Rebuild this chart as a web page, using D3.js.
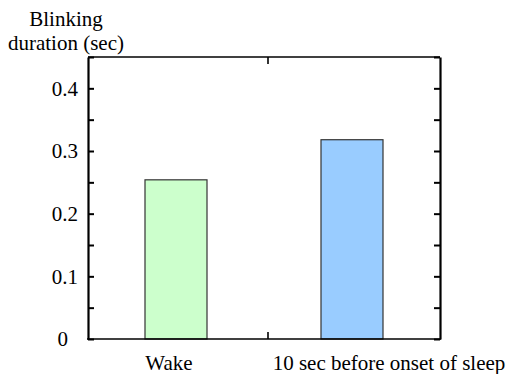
<!DOCTYPE html>
<html>
<head>
<meta charset="utf-8">
<script src="https://cdn.jsdelivr.net/npm/d3@7"></script>
<style>
  body { margin: 0; background: #fff; }
</style>
</head>
<body>
<div id="chart"></div>
<script>
// chart data
var categories = ["Wake", "10 sec before onset of sleep"];
var durations = [0.254, 0.318];
var barColors = ["#ccffcc", "#99ccff"];
var yTickValues = [0, 0.05, 0.1, 0.15, 0.2, 0.25, 0.3, 0.35, 0.4, 0.45];
var yLabelValues = [0, 0.1, 0.2, 0.3, 0.4];
var yTitle = ["Blinking", "duration (sec)"];

var width = 507, height = 374;
var plotLeft = 88, plotRight = 440, plotTop = 57, plotBottom = 339;
var serif = "'Liberation Serif', 'Times New Roman', 'DejaVu Serif', serif";

var svg = d3.select("#chart").append("svg")
    .attr("width", width)
    .attr("height", height);

var x = d3.scalePoint()
    .domain(categories)
    .range([plotLeft, plotRight])
    .padding(0.5);

var y = d3.scaleLinear()
    .domain([0, 0.45])
    .range([plotBottom, plotTop]);

var barWidth = 62;

// bars
svg.selectAll("rect.bar")
    .data(categories)
    .enter().append("rect")
    .attr("class", "bar")
    .attr("x", function(d) { return x(d) - barWidth / 2; })
    .attr("y", function(d, i) { return y(durations[i]); })
    .attr("width", barWidth)
    .attr("height", function(d, i) { return y(0) - y(durations[i]); })
    .attr("fill", function(d, i) { return barColors[i]; })
    .attr("stroke", "#333")
    .attr("stroke-width", 1.2);

function fmt(d) {
  if (yLabelValues.indexOf(d) < 0) return "";
  return d === 0 ? "0" : d3.format(".1f")(d);
}

// left axis, ticks pointing inward
var yAxisL = d3.axisLeft(y)
    .tickValues(yTickValues)
    .tickFormat(fmt)
    .tickSizeInner(-6)
    .tickSizeOuter(0)
    .tickPadding(10);

var gl = svg.append("g")
    .attr("transform", "translate(" + plotLeft + ",0)")
    .call(yAxisL)
    .attr("font-family", serif)
    .attr("font-size", 21);
gl.select(".domain").attr("stroke-width", 2.2);
gl.selectAll(".tick line").attr("stroke-width", 2);
gl.selectAll(".tick text")
    .attr("fill", "#000")
    .attr("dx", function(d) { return d === 0 ? -10 : 0; });

// right axis, ticks pointing inward
var yAxisR = d3.axisRight(y)
    .tickValues(yTickValues)
    .tickFormat("")
    .tickSizeInner(-6)
    .tickSizeOuter(0);

var gr = svg.append("g")
    .attr("transform", "translate(" + plotRight + ",0)")
    .call(yAxisR);
gr.select(".domain").attr("stroke-width", 2.2);
gr.selectAll(".tick line").attr("stroke-width", 2);

// top and bottom frame with a tick between the two groups
var mid = (x(categories[0]) + x(categories[1])) / 2 + 4;

svg.append("line")
    .attr("x1", plotLeft).attr("x2", plotRight)
    .attr("y1", y(0.45)).attr("y2", y(0.45))
    .attr("stroke", "#000").attr("stroke-width", 1.6);
svg.append("line")
    .attr("x1", plotLeft - 1).attr("x2", plotRight + 1)
    .attr("y1", y(0)).attr("y2", y(0))
    .attr("stroke", "#000").attr("stroke-width", 1.6);
svg.append("line")
    .attr("x1", mid).attr("x2", mid)
    .attr("y1", y(0.45)).attr("y2", y(0.45) + 7)
    .attr("stroke", "#000").attr("stroke-width", 1.6);
svg.append("line")
    .attr("x1", mid).attr("x2", mid)
    .attr("y1", y(0)).attr("y2", y(0) - 7)
    .attr("stroke", "#000").attr("stroke-width", 1.6);

// category labels
var labelShift = [-7, 37];
svg.selectAll("text.cat")
    .data(categories)
    .enter().append("text")
    .attr("class", "cat")
    .attr("x", function(d, i) { return x(d) + labelShift[i]; })
    .attr("y", 370)
    .attr("text-anchor", "middle")
    .attr("font-family", serif)
    .attr("font-size", 21)
    .text(function(d) { return d; });

// y title
svg.selectAll("text.ytitle")
    .data(yTitle)
    .enter().append("text")
    .attr("class", "ytitle")
    .attr("x", 66)
    .attr("y", function(d, i) { return 26 + i * 24; })
    .attr("text-anchor", "middle")
    .attr("font-family", serif)
    .attr("font-size", 21)
    .text(function(d) { return d; });
</script>
</body>
</html>
